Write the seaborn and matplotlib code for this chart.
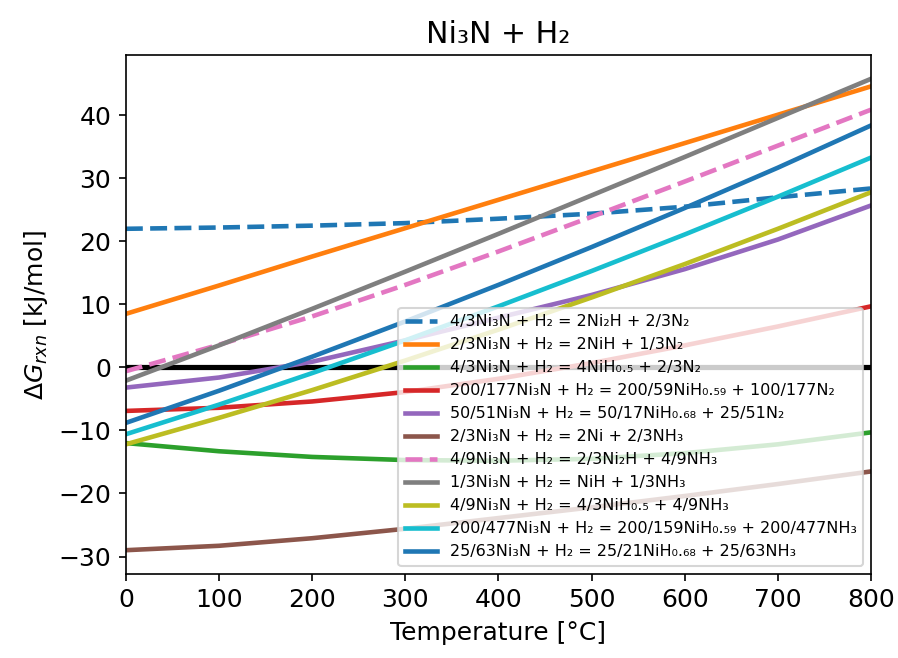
import pandas as pd
import seaborn as sns
import matplotlib.pyplot as plt

# temperature grid (degC)
temps = [0, 100, 200, 300, 400, 500, 600, 700, 800]

# dG_rxn values in kJ/mol
ni2h_n2 = [22.0, 22.2, 22.5, 22.9, 23.6, 24.4, 25.5, 27.0, 28.4]
nih_n2 = [8.5, 13.0, 17.6, 22.1, 26.6, 31.1, 35.6, 40.1, 44.6]
nih05_n2 = [-12.0, -13.3, -14.2, -14.7, -14.8, -14.5, -13.6, -12.2, -10.3]
nih059_n2 = [-6.9, -6.4, -5.4, -3.9, -1.8, 0.7, 3.5, 6.5, 9.7]
nih068_n2 = [-3.2, -1.6, 0.9, 4.3, 7.9, 11.5, 15.6, 20.3, 25.7]
ni_nh3 = [-29.0, -28.3, -27.1, -25.6, -23.9, -22.2, -20.4, -18.5, -16.5]
ni2h_nh3 = [-0.6, 3.6, 8.1, 13.1, 18.4, 23.9, 29.5, 35.2, 40.9]
nih_nh3 = [-2.1, 3.5, 9.3, 15.2, 21.2, 27.3, 33.4, 39.6, 45.8]
nih05_nh3 = [-12.2, -8.0, -3.6, 1.1, 6.0, 11.1, 16.4, 22.0, 27.8]
nih059_nh3 = [-10.6, -5.9, -0.9, 4.3, 9.7, 15.3, 21.1, 27.1, 33.3]
nih068_nh3 = [-8.8, -3.7, 1.7, 7.3, 13.1, 19.1, 25.3, 31.7, 38.4]

series = [
    ("4/3Ni₃N + H₂ = 2Ni₂H + 2/3N₂", ni2h_n2, "C0", "--"),
    ("2/3Ni₃N + H₂ = 2NiH + 1/3N₂", nih_n2, "C1", "-"),
    ("4/3Ni₃N + H₂ = 4NiH₀.₅ + 2/3N₂", nih05_n2, "C2", "-"),
    ("200/177Ni₃N + H₂ = 200/59NiH₀.₅₉ + 100/177N₂", nih059_n2, "C3", "-"),
    ("50/51Ni₃N + H₂ = 50/17NiH₀.₆₈ + 25/51N₂", nih068_n2, "C4", "-"),
    ("2/3Ni₃N + H₂ = 2Ni + 2/3NH₃", ni_nh3, "C5", "-"),
    ("4/9Ni₃N + H₂ = 2/3Ni₂H + 4/9NH₃", ni2h_nh3, "C6", "--"),
    ("1/3Ni₃N + H₂ = NiH + 1/3NH₃", nih_nh3, "C7", "-"),
    ("4/9Ni₃N + H₂ = 4/3NiH₀.₅ + 4/9NH₃", nih05_nh3, "C8", "-"),
    ("200/477Ni₃N + H₂ = 200/159NiH₀.₅₉ + 200/477NH₃", nih059_nh3, "C9", "-"),
    ("25/63Ni₃N + H₂ = 25/21NiH₀.₆₈ + 25/63NH₃", nih068_nh3, "C0", "-"),
]

plt.rcParams['font.size'] = 12

fig, ax = plt.subplots(figsize=(5.993, 4.387), dpi=150)
fig.subplots_adjust(left=0.14, right=0.969, top=0.916, bottom=0.128)

ax.axhline(0, color="black", lw=2.5, zorder=1)
for label, vals, col, ls in series:
    df = pd.DataFrame({"T": temps, "dG": vals})
    sns.lineplot(data=df, x="T", y="dG", color=col, linestyle=ls, lw=2.2,
                 label=label, ax=ax, zorder=2)

ax.set_xlim(0, 800)
ax.set_title("Ni₃N + H₂", fontsize=14.4)
ax.set_xlabel("Temperature [°C]")
ax.set_ylabel(r"$\Delta G_{rxn}$ [kJ/mol]")
ax.legend(loc="lower right", fontsize=7.7)

plt.savefig("out.png")
